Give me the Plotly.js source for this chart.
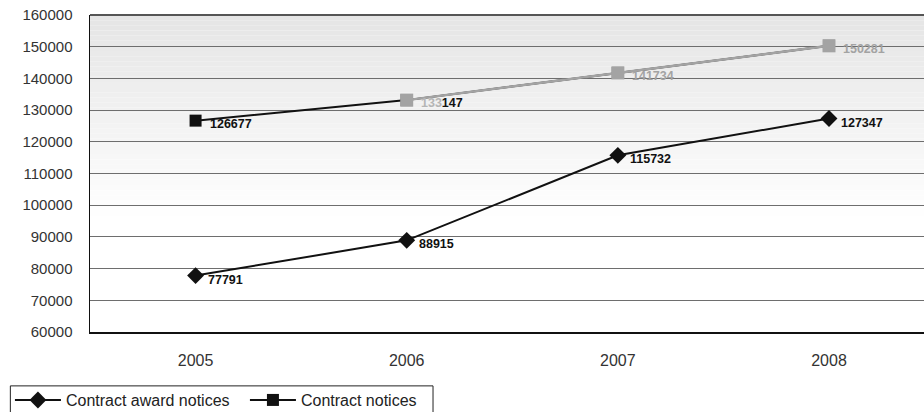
<!DOCTYPE html>
<html>
<head>
<meta charset="utf-8">
<script src="https://cdn.plot.ly/plotly-3.0.1.min.js"></script>
<style>
  html, body { margin: 0; padding: 0; background: #fff; overflow: hidden; }
  #chart { width: 924px; height: 412px; }
</style>
</head>
<body>
<div id="chart"></div>
<script>
// Yearly counts of published notices
const years = ['2005', '2006', '2007', '2008'];
const awardNotices = [77791, 88915, 115732, 127347];
const contractNotices = [126677, 133147, 141734, 150281];
const yTicks = [60000, 70000, 80000, 90000, 100000, 110000, 120000, 130000, 140000, 150000, 160000];

const FONT = '"Liberation Sans", Arial, sans-serif';
const GREY = '#a3a3a3';

// Soft grey wash at the top of the plot area, fading to white
const shapes = [];
const bands = 40, fadeTop = 160000, fadeBottom = 95000;
for (let i = 0; i < bands; i++) {
  const t = i / (bands - 1);
  const v = Math.round(229 + (255 - 229) * t);
  shapes.push({
    type: 'rect', layer: 'below', xref: 'paper', yref: 'y',
    x0: 0, x1: 1,
    y0: fadeTop - (fadeTop - fadeBottom) * i / bands,
    y1: fadeTop - (fadeTop - fadeBottom) * (i + 1) / bands,
    fillcolor: `rgb(${v},${v},${v})`, line: { width: 0 }
  });
}
// Top frame line
shapes.push({
  type: 'line', xref: 'paper', yref: 'paper', x0: 0, x1: 1, y0: 1, y1: 1,
  line: { color: '#555', width: 2 }
});
// Frame around the legend
shapes.push({
  type: 'rect', xref: 'paper', yref: 'paper',
  x0: -0.0955, x1: 0.4113, y0: -0.17, y1: -0.3,
  line: { color: '#222', width: 1 }, fillcolor: 'rgba(0,0,0,0)'
});

// Value labels beside each point (x given as category index)
const annotations = [];
awardNotices.forEach((v, i) => annotations.push({
  x: years.indexOf(years[i]), y: v, text: '<b>' + v + '</b>', showarrow: false,
  xanchor: 'left', yanchor: 'middle', xshift: 10, yshift: -4,
  font: { family: FONT, size: 12.5, color: '#111' }
}));
const noticeColors = ['#111', null, GREY, GREY];
contractNotices.forEach((v, i) => {
  const s = String(v);
  const text = noticeColors[i] === null
    ? `<b><span style="color:#b5b5b5">${s.slice(0, 3)}</span>${s.slice(3)}</b>`
    : `<b>${s}</b>`;
  annotations.push({
    x: years.indexOf(years[i]), y: v, text: text, showarrow: false,
    xanchor: 'left', yanchor: 'middle', xshift: 12, yshift: -3,
    font: { family: FONT, size: 12.5, color: noticeColors[i] || '#111' }
  });
});

const traces = [
  {
    name: 'Contract award notices', x: years, y: awardNotices,
    mode: 'lines+markers', type: 'scatter',
    line: { color: '#111', width: 2 },
    marker: { symbol: 'diamond', size: 13, color: '#111' }
  },
  {
    name: 'Contract notices', x: years, y: contractNotices,
    mode: 'lines+markers', type: 'scatter',
    line: { color: '#111', width: 2 },
    marker: { symbol: 'square', size: 12, color: '#111' }
  },
  {
    // lighter continuation of the contract notices series
    name: 'Contract notices', showlegend: false,
    x: years.slice(1), y: contractNotices.slice(1),
    mode: 'lines+markers', type: 'scatter',
    line: { color: GREY, width: 2.5 },
    marker: { symbol: 'square', size: 13, color: GREY }
  }
];

const layout = {
  width: 924, height: 412,
  margin: { l: 90, r: 0, t: 15, b: 80, autoexpand: false },
  paper_bgcolor: '#fff', plot_bgcolor: '#fff',
  font: { family: FONT, color: '#333' },
  showlegend: true,
  hovermode: false,
  xaxis: {
    type: 'category', range: [-0.5, 3.45],
    showgrid: false, ticks: '', zeroline: false,
    showline: true, linecolor: '#111', linewidth: 2,
    tickfont: { family: FONT, size: 16, color: '#333' },
    ticklabelstandoff: 13
  },
  yaxis: {
    range: [60000, 160000], tickvals: yTicks, ticktext: yTicks.map(String),
    showgrid: true, gridcolor: '#6e6e6e', gridwidth: 1,
    zeroline: false, ticks: '',
    showline: true, linecolor: '#111', linewidth: 1.5,
    tickfont: { family: FONT, size: 15, color: '#333' },
    ticklabelstandoff: 13
  },
  legend: {
    orientation: 'h', x: -0.096, xanchor: 'left', y: -0.161, yanchor: 'top',
    bgcolor: 'rgba(0,0,0,0)', borderwidth: 0,
    font: { family: FONT, size: 16, color: '#222' },
    itemwidth: 46, entrywidth: 174, entrywidthmode: 'pixels',
    traceorder: 'normal'
  },
  shapes: shapes,
  annotations: annotations
};

Plotly.newPlot('chart', traces, layout, { displayModeBar: false, staticPlot: true });
</script>
</body>
</html>
